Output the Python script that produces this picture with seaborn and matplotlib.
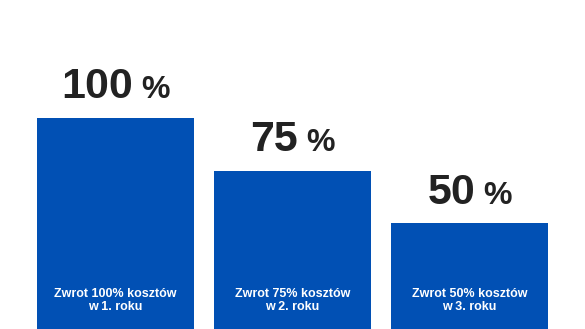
import matplotlib
matplotlib.use("Agg")
import matplotlib.pyplot as plt
import seaborn as sns
import pandas as pd
from matplotlib.transforms import offset_copy

# Refund share per year of the programme
years = ["1. rok", "2. rok", "3. rok"]
refund_pct = [100, 75, 50]
bar_lines_top = ["Zwrot 100% kosztów", "Zwrot 75% kosztów", "Zwrot 50% kosztów"]
bar_lines_bottom = ["w 1. roku", "w 2. roku", "w 3. roku"]

BLUE = "#0150B4"
DARK = "#222222"
FONT = ["Liberation Sans", "DejaVu Sans"]

sns.set_theme(style="white")
plt.rcParams["font.family"] = FONT

df = pd.DataFrame({"year": years, "pct": refund_pct})

fig = plt.figure(figsize=(5.85, 3.29), dpi=100)
ax = fig.add_axes([0, 0, 1, 1])
sns.barplot(data=df, x="year", y="pct", color=BLUE, saturation=1,
            width=0.887, linewidth=0, ax=ax)
ax.set_xlim(-0.6525, 2.6525)
ax.set_ylim(0, 155.9)
ax.set_axis_off()

# Value labels: big number plus a smaller percent sign, centred above each bar
fig.canvas.draw()
renderer = fig.canvas.get_renderer()
gap_px = 8
lift_px = 19.5
for i, v in enumerate(refund_pct):
    num = ax.text(i, v, str(v), fontsize=31, fontweight="bold", color=DARK,
                  ha="left", va="baseline")
    pct = ax.text(i, v, "%", fontsize=23, fontweight="bold", color=DARK,
                  ha="left", va="baseline")
    w_num = num.get_window_extent(renderer).width
    w_pct = pct.get_window_extent(renderer).width
    start = -(w_num + gap_px + w_pct) / 2
    num.set_transform(offset_copy(ax.transData, fig=fig, x=start, y=lift_px, units="dots"))
    pct.set_transform(offset_copy(ax.transData, fig=fig, x=start + w_num + gap_px,
                                  y=lift_px, units="dots"))

# Descriptions inside the bars
for i in range(len(years)):
    ax.text(i, 15.3, bar_lines_top[i], fontsize=9, fontweight="bold",
            color="white", ha="center", va="baseline")
    ax.text(i, 9.0, bar_lines_bottom[i], fontsize=9, fontweight="bold",
            color="white", ha="center", va="baseline")

fig.savefig("out.png", dpi=100)
